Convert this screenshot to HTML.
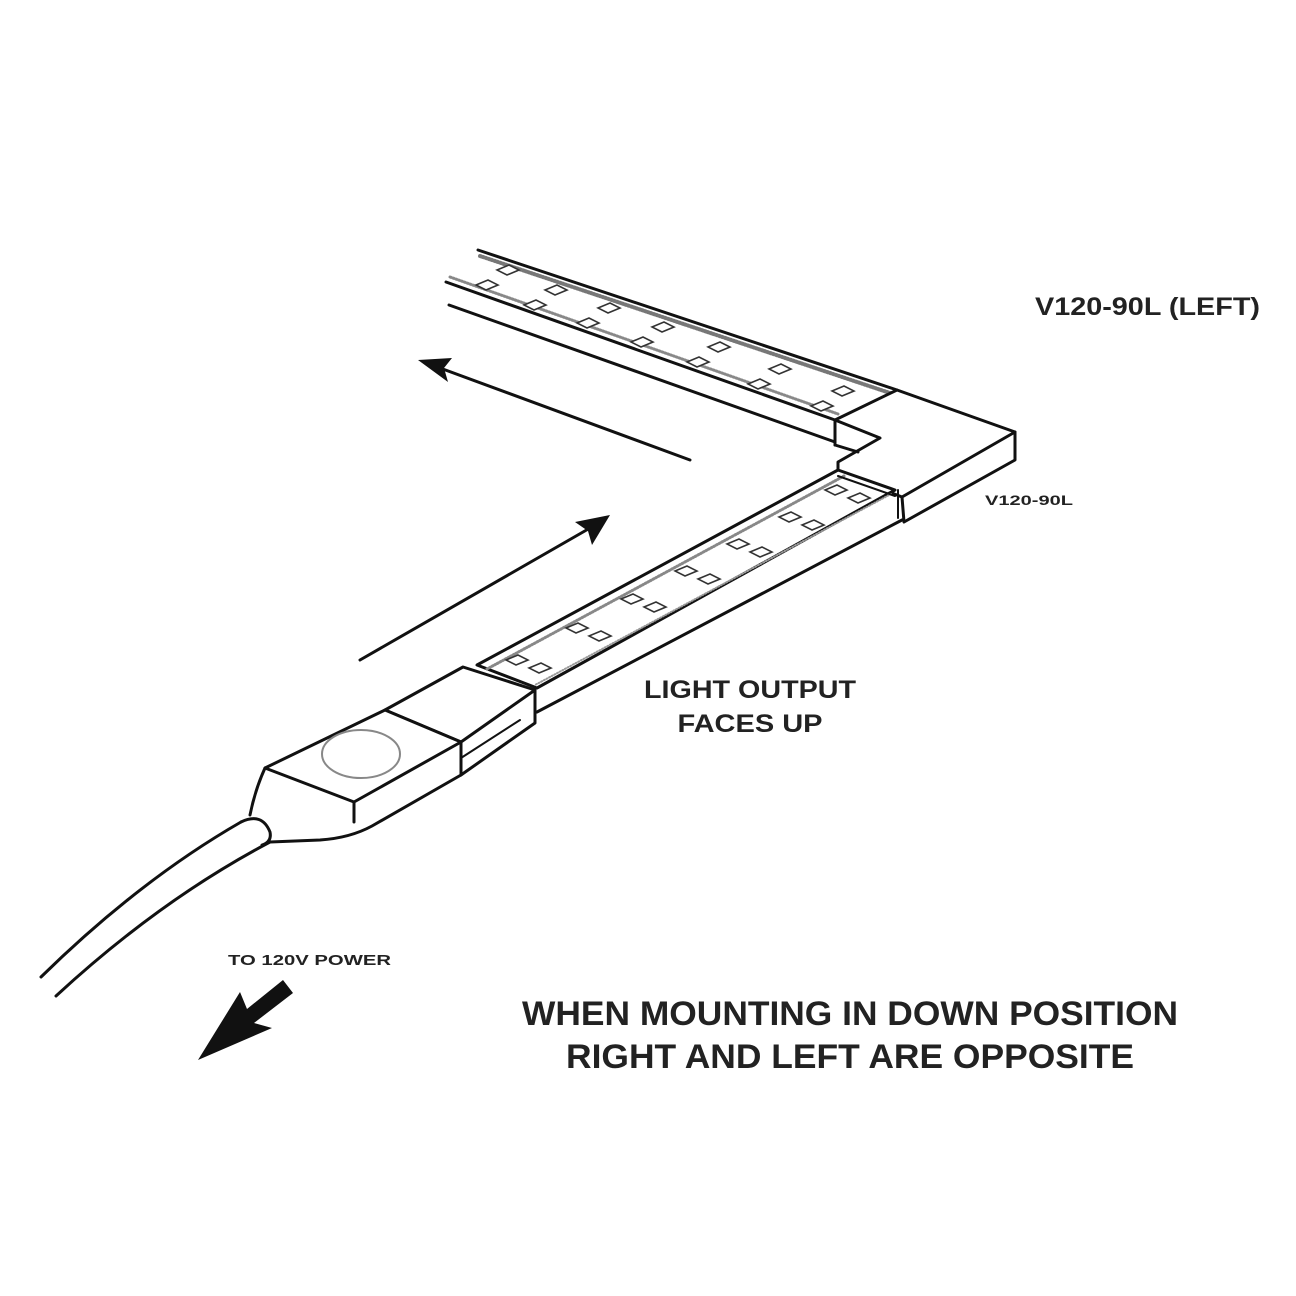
<!DOCTYPE html>
<html><head><style>
html,body{margin:0;padding:0;background:#fff;}
svg{display:block;}
text{font-family:"Liberation Sans",sans-serif;font-weight:bold;fill:#222;}
</style></head><body>
<svg width="1296" height="1296" viewBox="0 0 1296 1296" xmlns="http://www.w3.org/2000/svg">
<defs>
<path id="u" d="M0,0 l12,-5 l10,5 l-12,5 z" />
</defs>
<g fill="none" stroke="#111" stroke-width="3" stroke-linejoin="round" stroke-linecap="round">
<line x1="478" y1="250" x2="897" y2="390"/>
<line x1="446" y1="282" x2="835" y2="420"/>
<line x1="449" y1="305" x2="835" y2="442"/>
<line x1="835" y1="420" x2="835" y2="445"/>
<line x1="480" y1="256" x2="893" y2="394" stroke-width="4" stroke-dasharray="1 2" stroke="#777"/>
<line x1="450" y1="277" x2="838" y2="414" stroke-width="3" stroke-dasharray="1 2" stroke="#888"/>
<polygon points="897,390 1015,432 902,497 838,472 838,462 880,438 835,420" fill="#fff"/>
<polyline points="1015,432 1015,460 904,522 902,497"/>
<line x1="835" y1="445" x2="858" y2="452"/>
<polygon points="838,470 895,490 537,688 477,665" fill="#fff"/>
<line x1="844" y1="476" x2="487" y2="669" stroke-width="3" stroke-dasharray="1 2" stroke="#888"/>
<line x1="891" y1="494" x2="535" y2="685" stroke-width="2" stroke-dasharray="1 2" stroke="#999"/>
<line x1="902" y1="520" x2="537" y2="712"/>
<line x1="838" y1="476" x2="895" y2="496" stroke-width="2"/>
<line x1="898" y1="490" x2="898" y2="518" stroke-width="2"/>
<polygon points="463,667 535,690 461,742 385,710" fill="#fff"/>
<polyline points="535,690 535,723 461,775 461,742"/>
<line x1="461" y1="758" x2="520" y2="720" stroke-width="2"/>
<polygon points="385,710 461,742 354,802 265,768" fill="#fff"/>
<path d="M461,775 L372,826 Q350,838 320,840 L270,842" />
<path d="M265,768 Q255,790 250,815"/>
<line x1="354" y1="802" x2="354" y2="822"/>
<ellipse cx="361" cy="754" rx="39" ry="24" stroke="#888" stroke-width="2"/>
<path d="M241,822 Q140,880 41,977"/>
<path d="M270,842 Q160,900 56,996"/>
<path d="M241,822 Q262,812 270,832 Q272,842 262,845" />
<line x1="690" y1="460" x2="440" y2="368"/>
<line x1="360" y1="660" x2="590" y2="528"/>
</g>
<polygon points="418,360 452,358 444,368 448,382" fill="#111"/>
<polygon points="610,515 592,545 588,531 575,522" fill="#111"/>
<polygon points="283,980 293,993 254,1023 272,1028 198,1060 240,992 247,1009" fill="#111"/>
<g fill="#fff" stroke="#333" stroke-width="1.6">
<use href="#u" x="497" y="270"/><use href="#u" x="476" y="285"/>
<use href="#u" x="545" y="290"/><use href="#u" x="524" y="305"/>
<use href="#u" x="598" y="308"/><use href="#u" x="577" y="323"/>
<use href="#u" x="652" y="327"/><use href="#u" x="631" y="342"/>
<use href="#u" x="708" y="347"/><use href="#u" x="687" y="362"/>
<use href="#u" x="769" y="369"/><use href="#u" x="748" y="384"/>
<use href="#u" x="832" y="391"/><use href="#u" x="811" y="406"/>
<use href="#u" x="825" y="490"/><use href="#u" x="848" y="498"/>
<use href="#u" x="779" y="517"/><use href="#u" x="802" y="525"/>
<use href="#u" x="727" y="544"/><use href="#u" x="750" y="552"/>
<use href="#u" x="675" y="571"/><use href="#u" x="698" y="579"/>
<use href="#u" x="621" y="599"/><use href="#u" x="644" y="607"/>
<use href="#u" x="566" y="628"/><use href="#u" x="589" y="636"/>
<use href="#u" x="506" y="660"/><use href="#u" x="529" y="668"/>
</g>
<text x="1035" y="315" font-size="25" textLength="225" lengthAdjust="spacingAndGlyphs">V120-90L (LEFT)</text>
<text x="985" y="505" font-size="14" textLength="88" lengthAdjust="spacingAndGlyphs">V120-90L</text>
<text x="750" y="698" font-size="25" text-anchor="middle" textLength="212" lengthAdjust="spacingAndGlyphs">LIGHT OUTPUT</text>
<text x="750" y="732" font-size="25" text-anchor="middle" textLength="145" lengthAdjust="spacingAndGlyphs">FACES UP</text>
<text x="228" y="965" font-size="15" textLength="163" lengthAdjust="spacingAndGlyphs">TO 120V POWER</text>
<text x="850" y="1025" font-size="34" text-anchor="middle" textLength="656" lengthAdjust="spacingAndGlyphs">WHEN MOUNTING IN DOWN POSITION</text>
<text x="850" y="1068" font-size="34" text-anchor="middle" textLength="568" lengthAdjust="spacingAndGlyphs">RIGHT AND LEFT ARE OPPOSITE</text>
</svg>
</body></html>
